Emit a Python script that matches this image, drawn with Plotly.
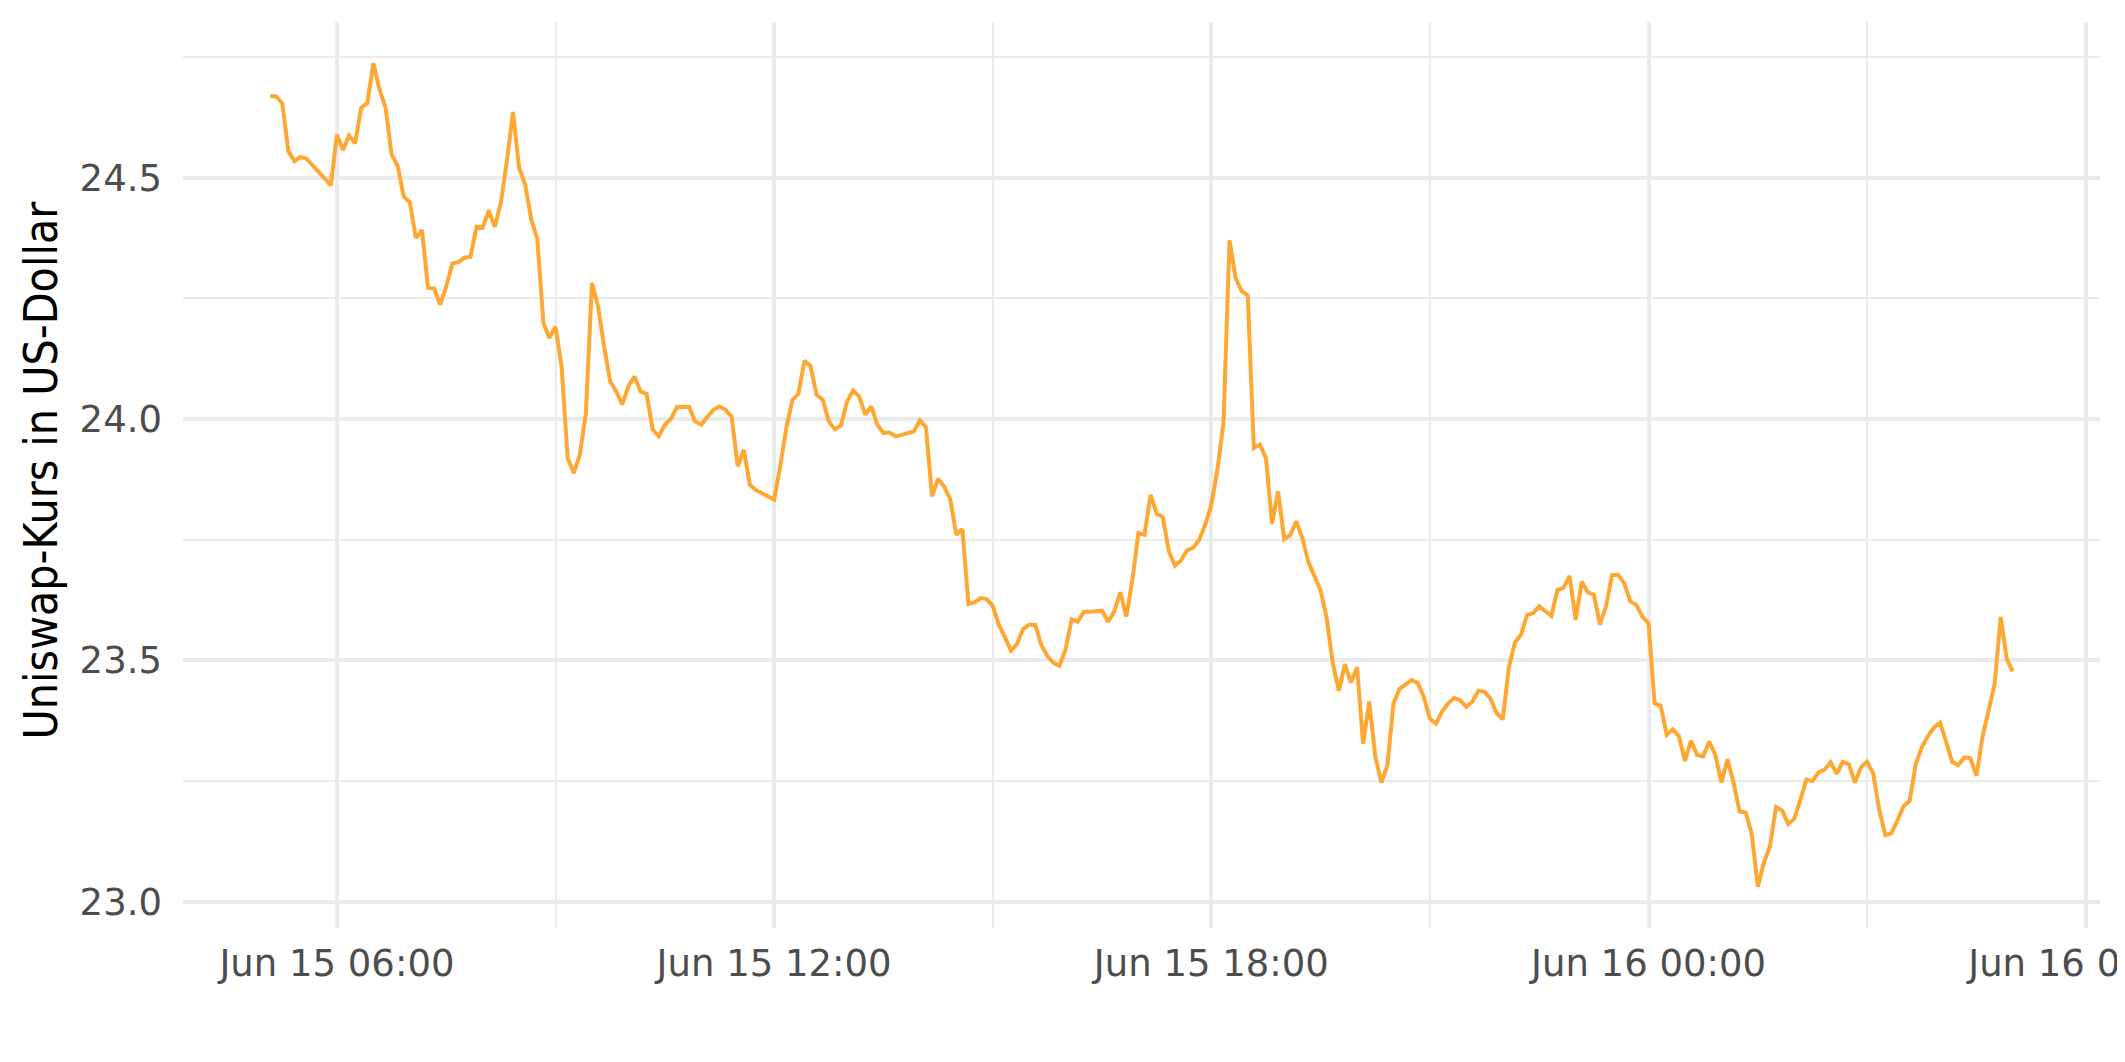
import pandas as pd
import plotly.graph_objects as go

# minutes after 2021-06-15 00:00 (5-minute samples)
minutes = [
    305, 310, 315, 320, 325, 330, 335, 355, 360, 365, 370, 375, 380, 385, 390, 395,
    400, 405, 410, 415, 420, 425, 430, 435, 440, 445, 450, 455, 460, 465, 470, 475,
    480, 485, 490, 495, 500, 505, 510, 515, 520, 525, 530, 535, 540, 545, 550, 555,
    560, 565, 570, 575, 580, 585, 590, 595, 600, 605, 610, 615, 620, 625, 630, 635,
    640, 650, 655, 660, 665, 670, 675, 680, 685, 690, 695, 700, 705, 720, 725, 730,
    735, 740, 745, 750, 755, 760, 765, 770, 775, 780, 785, 790, 795, 800, 805, 810,
    815, 820, 825, 835, 840, 845, 850, 855, 860, 865, 870, 875, 880, 885, 890, 895,
    900, 905, 910, 915, 920, 925, 930, 935, 940, 945, 950, 955, 960, 965, 970, 975,
    980, 990, 995, 1000, 1005, 1010, 1015, 1020, 1025, 1030, 1035, 1040, 1045, 1050,
    1055, 1060, 1065, 1070, 1075, 1080, 1085, 1090, 1095, 1100, 1105, 1110, 1115, 1120,
    1125, 1130, 1135, 1140, 1145, 1150, 1155, 1160, 1165, 1170, 1175, 1180, 1185, 1190,
    1195, 1200, 1205, 1210, 1215, 1220, 1225, 1230, 1235, 1240, 1245, 1250, 1255, 1260,
    1265, 1270, 1275, 1280, 1285, 1290, 1295, 1300, 1305, 1310, 1315, 1320, 1325, 1330,
    1335, 1340, 1345, 1350, 1355, 1360, 1365, 1370, 1375, 1380, 1385, 1390, 1395, 1400,
    1405, 1410, 1415, 1420, 1425, 1430, 1435, 1440, 1445, 1450, 1455, 1460, 1465, 1470,
    1475, 1480, 1485, 1490, 1495, 1500, 1505, 1510, 1515, 1520, 1525, 1530, 1535, 1540,
    1545, 1550, 1555, 1560, 1565, 1570, 1575, 1580, 1585, 1590, 1595, 1600, 1605, 1610,
    1615, 1620, 1625, 1630, 1635, 1640, 1645, 1650, 1655, 1660, 1665, 1670, 1675, 1680,
    1685, 1690, 1695, 1700, 1705, 1710, 1715, 1720, 1725, 1730, 1735, 1740,
]

price_usd = [
    24.669, 24.668, 24.654, 24.555, 24.534, 24.543, 24.539, 24.484, 24.589, 24.557, 24.587, 24.571, 24.645, 24.654, 24.737, 24.683,
    24.645, 24.548, 24.524, 24.461, 24.449, 24.375, 24.391, 24.272, 24.270, 24.237, 24.274, 24.322, 24.325, 24.334, 24.336, 24.398,
    24.396, 24.432, 24.398, 24.448, 24.536, 24.636, 24.520, 24.486, 24.413, 24.373, 24.199, 24.168, 24.191, 24.109, 23.919, 23.888,
    23.926, 24.012, 24.282, 24.233, 24.150, 24.078, 24.057, 24.030, 24.068, 24.088, 24.057, 24.052, 23.978, 23.964, 23.988, 24.000,
    24.025, 24.025, 23.995, 23.988, 24.004, 24.019, 24.026, 24.019, 24.005, 23.902, 23.936, 23.864, 23.853, 23.833, 23.902, 23.981,
    24.039, 24.052, 24.121, 24.109, 24.050, 24.040, 23.995, 23.979, 23.986, 24.036, 24.059, 24.047, 24.009, 24.026, 23.988, 23.971,
    23.972, 23.964, 23.967, 23.974, 23.997, 23.983, 23.840, 23.876, 23.860, 23.834, 23.760, 23.772, 23.617, 23.620, 23.629, 23.627,
    23.613, 23.574, 23.548, 23.520, 23.534, 23.565, 23.574, 23.574, 23.532, 23.509, 23.495, 23.489, 23.523, 23.585, 23.580, 23.601,
    23.601, 23.603, 23.580, 23.601, 23.641, 23.591, 23.667, 23.764, 23.760, 23.843, 23.804, 23.797, 23.726, 23.696,
    23.707, 23.728, 23.733, 23.750, 23.781, 23.822, 23.895, 23.992, 24.370, 24.292, 24.265, 24.256, 23.940, 23.947,
    23.919, 23.783, 23.850, 23.751, 23.760, 23.788, 23.753, 23.703, 23.674, 23.645, 23.587, 23.494, 23.437, 23.492,
    23.454, 23.486, 23.327, 23.415, 23.301, 23.247, 23.283, 23.411, 23.441, 23.451, 23.459, 23.453, 23.424, 23.379,
    23.369, 23.394, 23.411, 23.422, 23.417, 23.404, 23.415, 23.437, 23.435, 23.420, 23.391, 23.378, 23.486, 23.537,
    23.553, 23.594, 23.598, 23.612, 23.601, 23.592, 23.646, 23.650, 23.675, 23.584, 23.663, 23.641, 23.636, 23.574,
    23.612, 23.677, 23.677, 23.660, 23.622, 23.615, 23.590, 23.577, 23.411, 23.406, 23.346, 23.357, 23.343, 23.292,
    23.334, 23.304, 23.301, 23.332, 23.304, 23.247, 23.295, 23.247, 23.187, 23.185, 23.140, 23.031, 23.081, 23.115,
    23.196, 23.189, 23.161, 23.172, 23.211, 23.253, 23.250, 23.268, 23.274, 23.289, 23.265, 23.290, 23.285, 23.247,
    23.279, 23.290, 23.266, 23.190, 23.138, 23.142, 23.169, 23.198, 23.209, 23.285, 23.320, 23.343, 23.361, 23.371,
    23.332, 23.290, 23.283, 23.299, 23.297, 23.261, 23.341, 23.401, 23.451, 23.590, 23.502, 23.477,
]

x_tick_vals = ["2021-06-15 06:00", "2021-06-15 12:00", "2021-06-15 18:00",
               "2021-06-16 00:00", "2021-06-16 06:00"]
x_tick_text = ["Jun 15 06:00", "Jun 15 12:00", "Jun 15 18:00",
               "Jun 16 00:00", "Jun 16 06:00"]
y_tick_vals = [23.0, 23.5, 24.0, 24.5]
y_tick_text = ["23.0", "23.5", "24.0", "24.5"]
y_title = "Uniswap-Kurs in US-Dollar"

base = pd.Timestamp("2021-06-15 00:00")
times = base + pd.to_timedelta(minutes, unit="min")

# ggplot-like 5% expansion
t0, t1 = times.min(), times.max()
span = t1 - t0
x_range = [t0 - span * 0.05, t1 + span * 0.05]
vmin, vmax = min(price_usd), max(price_usd)
vspan = vmax - vmin
y_range = [vmin - vspan * 0.05, vmax + vspan * 0.05]

GRID = "#EBEBEB"
TICK_FONT = dict(family="DejaVu Sans", size=37, color="#4D4D4D")

fig = go.Figure()
fig.add_trace(go.Scatter(
    x=times, y=price_usd, mode="lines",
    line=dict(color="#FFA733", width=4),
    hoverinfo="skip", showlegend=False,
))

# the page body has an 8px default margin, so the figure is sized to end at the window edge
fig.update_layout(
    width=2117, height=1054,
    margin=dict(l=175, r=25, t=14, b=134),
    paper_bgcolor="white", plot_bgcolor="white",
    showlegend=False,
)

fig.update_xaxes(
    type="date", range=x_range, automargin=False,
    tickmode="array", tickvals=x_tick_vals, ticktext=x_tick_text,
    tickfont=TICK_FONT, ticks="", showline=False, zeroline=False,
    showgrid=True, gridcolor=GRID, gridwidth=3.5,
    ticklabelstandoff=10, ticklabeloverflow="allow",
    minor=dict(tick0="2021-06-15 03:00", dtick=3 * 3600 * 1000,
               showgrid=True, gridcolor=GRID, gridwidth=1.8, ticks=""),
)
fig.update_yaxes(
    range=y_range, automargin=False,
    tickmode="array", tickvals=y_tick_vals, ticktext=y_tick_text,
    tickfont=TICK_FONT, ticks="", showline=False, zeroline=False,
    showgrid=True, gridcolor=GRID, gridwidth=3.5,
    ticklabelstandoff=20,
    minor=dict(tick0=22.75, dtick=0.5, showgrid=True, gridcolor=GRID,
               gridwidth=1.8, ticks=""),
)

fig.add_annotation(
    text=y_title, textangle=-90,
    xref="paper", yref="paper",
    x=(41 - 183) / 1917, y=0.505,
    xanchor="center", yanchor="middle",
    showarrow=False,
    font=dict(family="DejaVu Sans Condensed, Liberation Sans Narrow, DejaVu Sans",
              size=46, color="black"),
)

fig.write_html("out.html")
